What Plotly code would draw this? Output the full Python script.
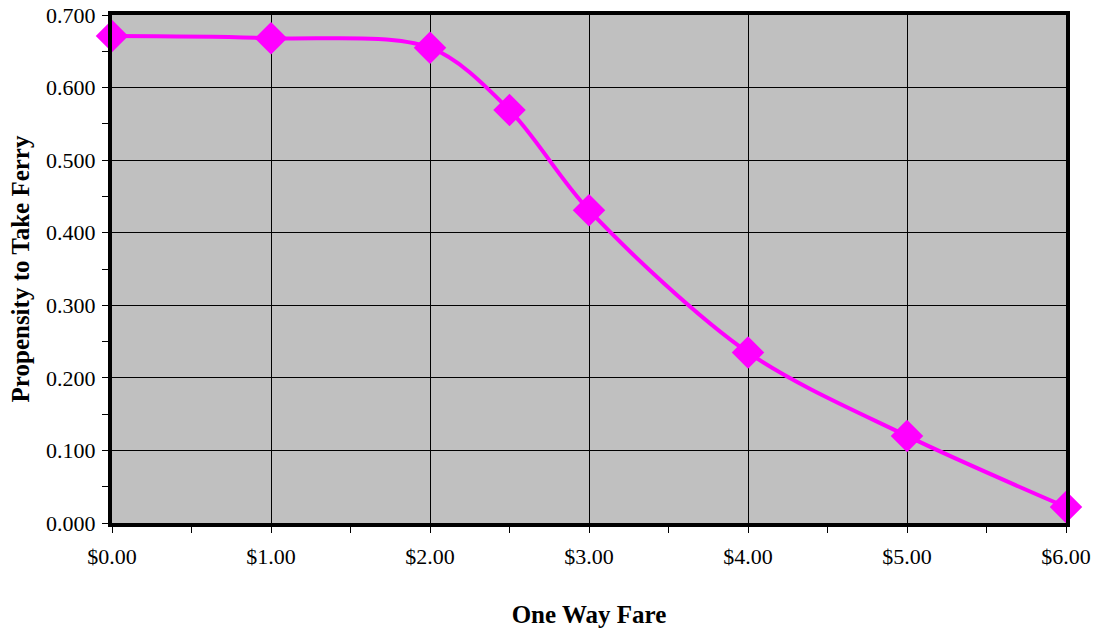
import plotly.graph_objects as go

# Ferry ridership propensity by one-way fare
fares = [0.0, 1.0, 2.0, 2.5, 3.0, 4.0, 5.0, 6.0]
propensity = [0.671, 0.668, 0.655, 0.569, 0.431, 0.235, 0.120, 0.022]

fig = go.Figure()
fig.add_trace(go.Scatter(
    x=fares, y=propensity,
    mode="lines+markers",
    line=dict(color="#FF00FF", width=4, shape="spline", smoothing=0.9),
    marker=dict(symbol="diamond", size=25, color="#FF00FF"),
    showlegend=False,
    cliponaxis=False,
))

font_family = "Liberation Serif, Times New Roman, serif"

fig.update_layout(
    width=1094, height=628,
    margin=dict(l=112, r=28, t=15, b=105),
    paper_bgcolor="white",
    plot_bgcolor="#C0C0C0",
    font=dict(family=font_family, size=22, color="black"),
    xaxis=dict(
        range=[0, 6], dtick=1, tick0=0,
        tickprefix="$", tickformat=".2f",
        showgrid=True, gridcolor="black", gridwidth=1,
        showline=True, linecolor="black", linewidth=4, mirror=True,
        ticks="outside", ticklen=6, tickcolor="black",
        ticklabelstandoff=5,
        minor=dict(dtick=0.5, ticks="outside", ticklen=6, tickcolor="black", showgrid=False),
        zeroline=False, automargin=False,
        title=dict(text="<b>One Way Fare</b>", font=dict(size=25), standoff=42),
    ),
    yaxis=dict(
        range=[0, 0.7], dtick=0.1, tick0=0,
        tickformat=".3f",
        showgrid=True, gridcolor="black", gridwidth=1,
        showline=True, linecolor="black", linewidth=4, mirror=True,
        ticks="outside", ticklen=6, tickcolor="black",
        ticklabelstandoff=2,
        minor=dict(dtick=0.05, ticks="outside", ticklen=6, tickcolor="black", showgrid=False),
        zeroline=False, automargin=False,
        title=dict(text="<b>Propensity to Take Ferry</b>", font=dict(size=25), standoff=10),
    ),
)

fig.write_html("out.html")
